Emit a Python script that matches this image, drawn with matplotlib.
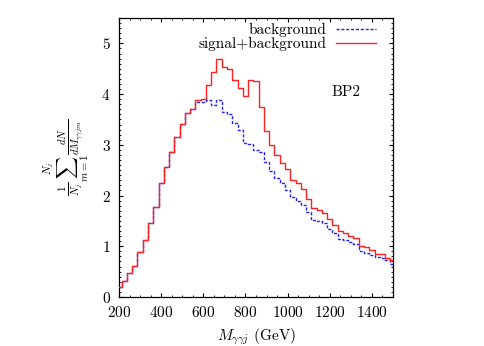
import numpy as np
import matplotlib
matplotlib.use('Agg')
import matplotlib.pyplot as plt
from matplotlib.ticker import MultipleLocator

plt.rcParams['font.family'] = 'cmr10'
plt.rcParams['mathtext.fontset'] = 'cm'
plt.rcParams['axes.formatter.use_mathtext'] = True
plt.rcParams['font.size'] = 11

# bin centres (GeV), 25 GeV bins
mass = np.arange(200, 1501, 25)

# signal+background
sig_bkg = [0.20, 0.32, 0.48, 0.62, 0.89, 1.12, 1.45, 1.77, 2.24, 2.57,
           2.86, 3.15, 3.41, 3.62, 3.71, 3.89, 3.90, 4.18, 4.43, 4.70,
           4.54, 4.50, 4.28, 4.12, 3.97, 4.27, 4.25, 3.75, 3.28, 3.00,
           2.80, 2.64, 2.52, 2.31, 2.25, 2.12, 1.93, 1.75, 1.72, 1.65,
           1.54, 1.41, 1.30, 1.27, 1.21, 1.16, 1.01, 0.98, 0.93, 0.84,
           0.84, 0.76, 0.72]

# background only
bkg = [0.20, 0.32, 0.48, 0.62, 0.89, 1.12, 1.45, 1.77, 2.24, 2.57,
       2.86, 3.15, 3.41, 3.62, 3.71, 3.85, 3.85, 3.89, 3.78, 3.88,
       3.65, 3.60, 3.43, 3.29, 3.04, 3.01, 2.90, 2.86, 2.67, 2.48,
       2.34, 2.25, 2.11, 1.98, 1.90, 1.82, 1.68, 1.52, 1.50, 1.45,
       1.35, 1.26, 1.14, 1.12, 1.09, 1.05, 0.90, 0.86, 0.83, 0.78,
       0.77, 0.72, 0.65]

fig = plt.figure(figsize=(4.85, 3.46), dpi=100)
ax = fig.add_axes([0.2454, 0.1416, 0.5649, 0.8064])

ax.step(mass, bkg, where='mid', color='#2020ff', lw=1.0,
        dashes=(2.2, 1.3), label='background', zorder=2)
ax.step(mass, sig_bkg, where='mid', color='#ff2020', lw=1.0,
        label='signal+background', zorder=3)

ax.set_xlim(200, 1500)
ax.set_ylim(0, 5.5)
ax.xaxis.set_major_locator(MultipleLocator(200))
ax.xaxis.set_minor_locator(MultipleLocator(50))
ax.yaxis.set_major_locator(MultipleLocator(1))
ax.yaxis.set_minor_locator(MultipleLocator(0.1))
ax.tick_params(which='both', direction='in', top=True, right=True)
ax.tick_params(which='major', length=3.0, width=0.8)
ax.tick_params(which='minor', length=1.5, width=0.6)
ax.tick_params(axis='x', which='major', pad=6)
ax.tick_params(axis='y', which='major', pad=6)
for s in ax.spines.values():
    s.set_linewidth(0.9)

ax.set_xlabel(r'$M_{\gamma\gamma j}$ (GeV)')
ax.set_ylabel(r'$\frac{1}{N_j}\sum_{m=1}^{N_j}\frac{dN}{dM_{\gamma\gamma j m}}$')
ax.xaxis.set_label_coords(0.5, -0.105)
ax.yaxis.set_label_coords(-0.097, 0.5)

ax.text(1210, 4.03, 'BP2', ha='left', va='center')

ax.legend(loc='upper right', bbox_to_anchor=(0.96, 1.005), frameon=False,
          markerfirst=False, handlelength=2.6, handletextpad=0.65,
          borderaxespad=0.0, labelspacing=0.0)

fig.savefig('out.png', dpi=100)
